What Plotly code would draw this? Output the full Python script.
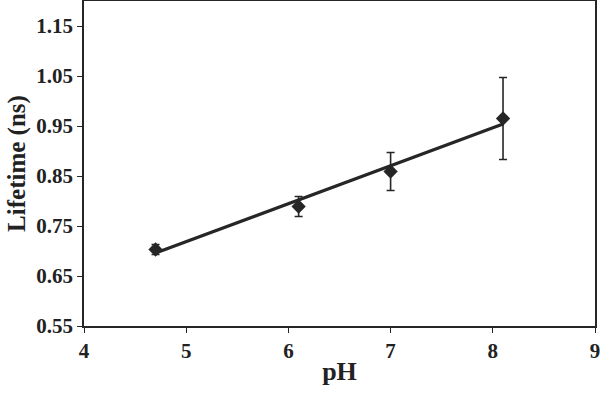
import plotly.graph_objects as go

ph = [4.7, 6.1, 7.0, 8.1]
lifetime = [0.703, 0.789, 0.859, 0.965]
err = [0.010, 0.020, 0.038, 0.082]
fit_x = [4.7, 8.1]
fit_y = [0.696, 0.954]
yticks = [0.55, 0.65, 0.75, 0.85, 0.95, 1.05, 1.15]
xticks = [4, 5, 6, 7, 8, 9]

ink = "#262626"
fig = go.Figure()
fig.add_trace(go.Scatter(x=fit_x, y=fit_y, mode="lines",
                         line=dict(color=ink, width=3.2), showlegend=False))
fig.add_trace(go.Scatter(x=ph, y=lifetime, mode="markers",
                         marker=dict(symbol="diamond", size=11, color=ink),
                         error_y=dict(type="data", array=err, visible=True,
                                      color=ink, thickness=1.6, width=4),
                         showlegend=False))

font = dict(family="Liberation Serif", color="#222", size=21)
fig.update_layout(
    width=601, height=393,
    margin=dict(l=84, r=6, t=1, b=67),
    plot_bgcolor="white", paper_bgcolor="white",
    font=font,
    xaxis=dict(range=[4, 9], tickvals=xticks, ticktext=[f"<b>{v}</b>" for v in xticks],
               automargin=False,
               showgrid=False, zeroline=False, showline=True, linecolor=ink, linewidth=1.5,
               mirror=True, ticks="outside", ticklen=5, tickcolor=ink,
               title=dict(text="<b>pH</b>", font=dict(size=26), standoff=0)),
    yaxis=dict(range=[0.55, 1.2], tickvals=yticks, ticktext=[f"<b>{v:.2f}</b>" for v in yticks],
               automargin=False,
               showgrid=False, zeroline=False, showline=True, linecolor=ink, linewidth=1.5,
               mirror=True, ticks="outside", ticklen=5, tickcolor=ink,
               title=dict(text="<b>Lifetime (ns)</b>", font=dict(size=25), standoff=4)),
)
fig.write_html("out.html", config={"displayModeBar": False},
               post_script="document.body.style.margin='0';")
